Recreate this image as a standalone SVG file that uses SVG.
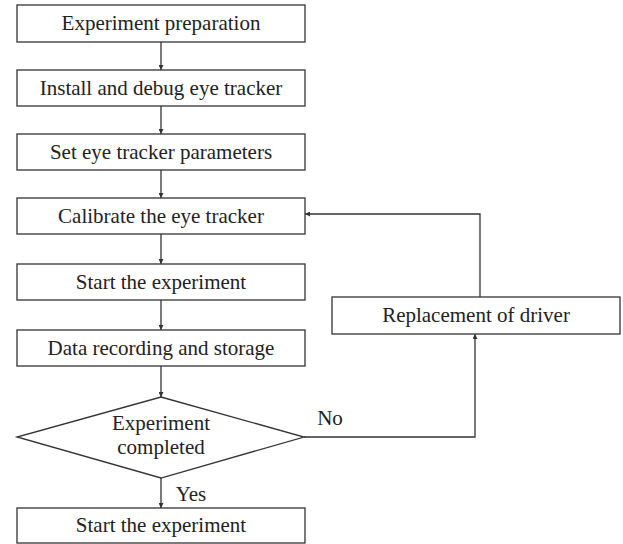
<svg xmlns="http://www.w3.org/2000/svg" width="623" height="544" viewBox="0 0 623 544">
<style>
.box{fill:#fff;stroke:#333;stroke-width:1.3}
.t{font-family:"Liberation Serif",serif;font-size:21px;fill:#222;text-anchor:middle}
.c{fill:none;stroke:#333;stroke-width:1.3}
</style>
<defs>
<marker id="ah" viewBox="0 0 10 10" refX="10" refY="5" markerWidth="5" markerHeight="5" orient="auto" markerUnits="userSpaceOnUse">
<path d="M0,0 L10,5 L0,10 z" fill="#333"/>
</marker>
</defs>
<rect width="623" height="544" fill="#fff"/>
<g id="connectors">
<line class="c" x1="161" y1="42" x2="161" y2="70" marker-end="url(#ah)"/>
<line class="c" x1="161" y1="106" x2="161" y2="134" marker-end="url(#ah)"/>
<line class="c" x1="161" y1="170" x2="161" y2="198" marker-end="url(#ah)"/>
<line class="c" x1="161" y1="234" x2="161" y2="264" marker-end="url(#ah)"/>
<line class="c" x1="161" y1="300" x2="161" y2="330" marker-end="url(#ah)"/>
<line class="c" x1="161" y1="366" x2="161" y2="397" marker-end="url(#ah)"/>
<line class="c" x1="161" y1="478" x2="161" y2="508" marker-end="url(#ah)"/>
<polyline class="c" points="304,437 475,437 475,334" marker-end="url(#ah)"/>
<polyline class="c" points="480,297 480,214 305,214" marker-end="url(#ah)"/>
<text class="t" x="330" y="425">No</text>
<text class="t" x="191" y="501">Yes</text>
</g>
<g id="n1"><rect class="box" x="17" y="5" width="288" height="37"/><text class="t" x="161" y="30">Experiment preparation</text></g>
<g id="n2"><rect class="box" x="17" y="70" width="288" height="36"/><text class="t" x="161" y="95">Install and debug eye tracker</text></g>
<g id="n3"><rect class="box" x="17" y="134" width="288" height="36"/><text class="t" x="161" y="159">Set eye tracker parameters</text></g>
<g id="n4"><rect class="box" x="17" y="198" width="288" height="36"/><text class="t" x="161" y="223">Calibrate the eye tracker</text></g>
<g id="n5"><rect class="box" x="17" y="264" width="288" height="36"/><text class="t" x="161" y="289">Start the experiment</text></g>
<g id="n6"><rect class="box" x="17" y="330" width="288" height="36"/><text class="t" x="161" y="355">Data recording and storage</text></g>
<g id="n7"><polygon class="box" points="161,397 304,437 161,478 17,437"/><text class="t" x="161" y="430">Experiment</text><text class="t" x="161" y="454">completed</text></g>
<g id="n8"><rect class="box" x="17" y="508" width="288" height="35"/><text class="t" x="161" y="532">Start the experiment</text></g>
<g id="n9"><rect class="box" x="332" y="297" width="288" height="37"/><text class="t" x="476" y="322">Replacement of driver</text></g>
</svg>
